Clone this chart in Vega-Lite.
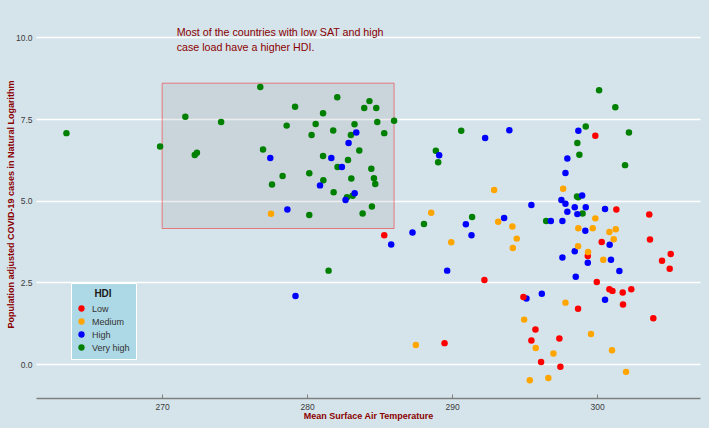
{
  "$schema": "https://vega.github.io/schema/vega-lite/v6.json",
  "width": 664,
  "height": 388,
  "autosize": {"type": "none"},
  "padding": {"left": 36, "top": 10, "right": 9, "bottom": 30},
  "background": "#d5e4eb",
  "config": {"view": {"stroke": null}, "font": "Liberation Sans"},
  "datasets": {
    "box": [{"x": 270, "xe": 286, "y": 4.15, "ye": 8.6}],
    "note": [{"x": 271.0, "y": 10.05, "label": "Most of the countries with low SAT and high\n case load have a higher HDI."}],
    "pts": [
      {"x": 263.40, "y": 7.07, "hdi": "Very high"},
      {"x": 269.86, "y": 6.66, "hdi": "Very high"},
      {"x": 271.60, "y": 7.57, "hdi": "Very high"},
      {"x": 272.25, "y": 6.40, "hdi": "Very high"},
      {"x": 272.40, "y": 6.47, "hdi": "Very high"},
      {"x": 274.07, "y": 7.41, "hdi": "Very high"},
      {"x": 276.77, "y": 8.48, "hdi": "Very high"},
      {"x": 276.96, "y": 6.57, "hdi": "Very high"},
      {"x": 278.31, "y": 5.76, "hdi": "Very high"},
      {"x": 277.58, "y": 5.50, "hdi": "Very high"},
      {"x": 279.17, "y": 7.88, "hdi": "Very high"},
      {"x": 278.59, "y": 7.30, "hdi": "Very high"},
      {"x": 280.31, "y": 7.01, "hdi": "Very high"},
      {"x": 280.59, "y": 7.35, "hdi": "Very high"},
      {"x": 281.10, "y": 7.68, "hdi": "Very high"},
      {"x": 280.15, "y": 5.84, "hdi": "Very high"},
      {"x": 281.10, "y": 6.37, "hdi": "Very high"},
      {"x": 282.10, "y": 6.03, "hdi": "Very high"},
      {"x": 281.80, "y": 7.15, "hdi": "Very high"},
      {"x": 282.08, "y": 8.17, "hdi": "Very high"},
      {"x": 281.12, "y": 5.63, "hdi": "Very high"},
      {"x": 281.83, "y": 5.26, "hdi": "Very high"},
      {"x": 282.75, "y": 5.11, "hdi": "Very high"},
      {"x": 283.14, "y": 5.15, "hdi": "Very high"},
      {"x": 282.82, "y": 6.25, "hdi": "Very high"},
      {"x": 283.02, "y": 7.01, "hdi": "Very high"},
      {"x": 283.27, "y": 7.34, "hdi": "Very high"},
      {"x": 283.05, "y": 5.68, "hdi": "Very high"},
      {"x": 283.60, "y": 6.54, "hdi": "Very high"},
      {"x": 280.15, "y": 4.56, "hdi": "Very high"},
      {"x": 281.48, "y": 2.86, "hdi": "Very high"},
      {"x": 284.30, "y": 8.05, "hdi": "Very high"},
      {"x": 283.94, "y": 7.84, "hdi": "Very high"},
      {"x": 284.77, "y": 7.84, "hdi": "Very high"},
      {"x": 284.84, "y": 7.41, "hdi": "Very high"},
      {"x": 286.00, "y": 7.45, "hdi": "Very high"},
      {"x": 285.32, "y": 7.07, "hdi": "Very high"},
      {"x": 284.43, "y": 5.98, "hdi": "Very high"},
      {"x": 284.61, "y": 5.69, "hdi": "Very high"},
      {"x": 284.70, "y": 5.51, "hdi": "Very high"},
      {"x": 284.47, "y": 4.82, "hdi": "Very high"},
      {"x": 283.83, "y": 4.61, "hdi": "Very high"},
      {"x": 300.14, "y": 8.38, "hdi": "Very high"},
      {"x": 301.26, "y": 7.86, "hdi": "Very high"},
      {"x": 302.20, "y": 7.09, "hdi": "Very high"},
      {"x": 299.22, "y": 7.27, "hdi": "Very high"},
      {"x": 298.64, "y": 6.77, "hdi": "Very high"},
      {"x": 298.78, "y": 6.41, "hdi": "Very high"},
      {"x": 301.93, "y": 6.09, "hdi": "Very high"},
      {"x": 290.63, "y": 7.14, "hdi": "Very high"},
      {"x": 288.88, "y": 6.53, "hdi": "Very high"},
      {"x": 289.04, "y": 6.18, "hdi": "Very high"},
      {"x": 298.62, "y": 5.13, "hdi": "Very high"},
      {"x": 298.70, "y": 5.11, "hdi": "Very high"},
      {"x": 299.00, "y": 4.61, "hdi": "Very high"},
      {"x": 291.38, "y": 4.50, "hdi": "Very high"},
      {"x": 288.06, "y": 4.29, "hdi": "Very high"},
      {"x": 296.49, "y": 4.38, "hdi": "Very high"},
      {"x": 277.46, "y": 6.31, "hdi": "High"},
      {"x": 281.67, "y": 6.31, "hdi": "High"},
      {"x": 282.40, "y": 6.03, "hdi": "High"},
      {"x": 280.89, "y": 5.47, "hdi": "High"},
      {"x": 282.65, "y": 5.02, "hdi": "High"},
      {"x": 283.28, "y": 5.23, "hdi": "High"},
      {"x": 282.86, "y": 6.77, "hdi": "High"},
      {"x": 283.39, "y": 7.09, "hdi": "High"},
      {"x": 278.64, "y": 4.73, "hdi": "High"},
      {"x": 279.20, "y": 2.08, "hdi": "High"},
      {"x": 298.71, "y": 7.14, "hdi": "High"},
      {"x": 297.95, "y": 6.29, "hdi": "High"},
      {"x": 297.82, "y": 5.85, "hdi": "High"},
      {"x": 292.28, "y": 6.92, "hdi": "High"},
      {"x": 293.95, "y": 7.16, "hdi": "High"},
      {"x": 289.11, "y": 6.39, "hdi": "High"},
      {"x": 295.47, "y": 4.87, "hdi": "High"},
      {"x": 297.54, "y": 5.02, "hdi": "High"},
      {"x": 297.82, "y": 4.91, "hdi": "High"},
      {"x": 298.97, "y": 5.16, "hdi": "High"},
      {"x": 298.46, "y": 4.80, "hdi": "High"},
      {"x": 299.22, "y": 4.80, "hdi": "High"},
      {"x": 297.95, "y": 4.66, "hdi": "High"},
      {"x": 298.64, "y": 4.59, "hdi": "High"},
      {"x": 300.55, "y": 4.75, "hdi": "High"},
      {"x": 293.59, "y": 4.47, "hdi": "High"},
      {"x": 287.27, "y": 4.03, "hdi": "High"},
      {"x": 285.80, "y": 3.66, "hdi": "High"},
      {"x": 290.95, "y": 4.28, "hdi": "High"},
      {"x": 291.34, "y": 3.94, "hdi": "High"},
      {"x": 289.66, "y": 2.86, "hdi": "High"},
      {"x": 296.81, "y": 4.38, "hdi": "High"},
      {"x": 297.61, "y": 4.38, "hdi": "High"},
      {"x": 299.19, "y": 4.08, "hdi": "High"},
      {"x": 300.87, "y": 3.65, "hdi": "High"},
      {"x": 298.46, "y": 3.45, "hdi": "High"},
      {"x": 299.36, "y": 3.10, "hdi": "High"},
      {"x": 297.61, "y": 3.26, "hdi": "High"},
      {"x": 300.96, "y": 3.19, "hdi": "High"},
      {"x": 301.54, "y": 2.85, "hdi": "High"},
      {"x": 298.53, "y": 2.67, "hdi": "High"},
      {"x": 300.55, "y": 1.97, "hdi": "High"},
      {"x": 296.19, "y": 2.15, "hdi": "High"},
      {"x": 295.13, "y": 2.01, "hdi": "High"},
      {"x": 285.32, "y": 3.94, "hdi": "Low"},
      {"x": 299.88, "y": 6.99, "hdi": "Low"},
      {"x": 301.33, "y": 4.73, "hdi": "Low"},
      {"x": 303.60, "y": 4.58, "hdi": "Low"},
      {"x": 300.32, "y": 3.74, "hdi": "Low"},
      {"x": 303.65, "y": 3.81, "hdi": "Low"},
      {"x": 305.08, "y": 3.37, "hdi": "Low"},
      {"x": 304.48, "y": 3.16, "hdi": "Low"},
      {"x": 305.01, "y": 2.92, "hdi": "Low"},
      {"x": 299.36, "y": 3.31, "hdi": "Low"},
      {"x": 299.98, "y": 2.51, "hdi": "Low"},
      {"x": 300.85, "y": 2.29, "hdi": "Low"},
      {"x": 301.06, "y": 2.24, "hdi": "Low"},
      {"x": 301.77, "y": 2.19, "hdi": "Low"},
      {"x": 302.36, "y": 2.29, "hdi": "Low"},
      {"x": 301.79, "y": 1.82, "hdi": "Low"},
      {"x": 303.88, "y": 1.40, "hdi": "Low"},
      {"x": 292.23, "y": 2.57, "hdi": "Low"},
      {"x": 294.92, "y": 2.05, "hdi": "Low"},
      {"x": 298.69, "y": 1.69, "hdi": "Low"},
      {"x": 295.75, "y": 1.06, "hdi": "Low"},
      {"x": 295.47, "y": 0.72, "hdi": "Low"},
      {"x": 297.40, "y": 0.78, "hdi": "Low"},
      {"x": 296.14, "y": 0.06, "hdi": "Low"},
      {"x": 297.47, "y": -0.08, "hdi": "Low"},
      {"x": 289.48, "y": 0.64, "hdi": "Low"},
      {"x": 277.51, "y": 4.60, "hdi": "Medium"},
      {"x": 297.66, "y": 5.37, "hdi": "Medium"},
      {"x": 292.90, "y": 5.33, "hdi": "Medium"},
      {"x": 288.56, "y": 4.63, "hdi": "Medium"},
      {"x": 299.88, "y": 4.46, "hdi": "Medium"},
      {"x": 289.94, "y": 3.73, "hdi": "Medium"},
      {"x": 293.18, "y": 4.36, "hdi": "Medium"},
      {"x": 294.16, "y": 4.21, "hdi": "Medium"},
      {"x": 294.46, "y": 3.84, "hdi": "Medium"},
      {"x": 294.19, "y": 3.55, "hdi": "Medium"},
      {"x": 298.71, "y": 4.16, "hdi": "Medium"},
      {"x": 299.70, "y": 4.16, "hdi": "Medium"},
      {"x": 300.85, "y": 4.04, "hdi": "Medium"},
      {"x": 301.29, "y": 4.13, "hdi": "Medium"},
      {"x": 301.15, "y": 3.82, "hdi": "Medium"},
      {"x": 298.69, "y": 3.61, "hdi": "Medium"},
      {"x": 299.38, "y": 3.43, "hdi": "Medium"},
      {"x": 300.43, "y": 3.19, "hdi": "Medium"},
      {"x": 297.82, "y": 1.88, "hdi": "Medium"},
      {"x": 294.97, "y": 1.36, "hdi": "Medium"},
      {"x": 299.58, "y": 0.92, "hdi": "Medium"},
      {"x": 295.77, "y": 0.49, "hdi": "Medium"},
      {"x": 296.99, "y": 0.32, "hdi": "Medium"},
      {"x": 301.03, "y": 0.42, "hdi": "Medium"},
      {"x": 302.00, "y": -0.24, "hdi": "Medium"},
      {"x": 295.36, "y": -0.50, "hdi": "Medium"},
      {"x": 296.64, "y": -0.43, "hdi": "Medium"},
      {"x": 287.50, "y": 0.58, "hdi": "Medium"}
    ]
  },
  "layer": [
    {
      "data": {"name": "box"},
      "mark": {"type": "rect", "fill": "#808080", "fillOpacity": 0.14, "stroke": "#ff0000", "strokeOpacity": 0.45, "strokeWidth": 1},
      "encoding": {
        "x": {"field": "x", "type": "quantitative", "scale": {"domain": [261.3, 307.1], "nice": false, "zero": false}},
        "x2": {"field": "xe"},
        "y": {"field": "y", "type": "quantitative", "scale": {"domain": [-1.04, 10.84], "nice": false, "zero": false}},
        "y2": {"field": "ye"}
      }
    },
    {
      "data": {"name": "pts"},
      "mark": {"type": "circle", "size": 42, "opacity": 1},
      "encoding": {
        "x": {
          "field": "x", "type": "quantitative",
          "scale": {"domain": [261.3, 307.1], "nice": false, "zero": false},
          "axis": {"title": "Mean Surface Air Temperature", "values": [270, 280, 290, 300], "format": "d", "grid": false,
            "domainColor": "#7f7f7f", "domainWidth": 1.5, "tickColor": "#7f7f7f", "tickSize": -4, "tickWidth": 1,
            "labelFontSize": 8.5, "labelColor": "#3c3c3c", "labelPadding": 8,
            "titleColor": "#8b0000", "titleFontSize": 9, "titleFontWeight": "bold", "titlePadding": 1}
        },
        "y": {
          "field": "y", "type": "quantitative",
          "scale": {"domain": [-1.04, 10.84], "nice": false, "zero": false},
          "axis": {"title": "Population adjusted COVID-19 cases in Natural Logarithm", "values": [0, 2.5, 5, 7.5, 10], "format": ".1f",
            "domain": false, "ticks": false, "grid": true, "gridColor": "#ffffff", "gridWidth": 1.3,
            "labelFontSize": 8.5, "labelColor": "#3c3c3c", "labelPadding": 4,
            "titleColor": "#8b0000", "titleFontSize": 9, "titleFontWeight": "bold", "titlePadding": 0}
        },
        "color": {
          "field": "hdi", "type": "nominal",
          "scale": {"domain": ["Low", "Medium", "High", "Very high"], "range": ["#ff0000", "#ffa500", "#0000ff", "#008000"]},
          "legend": {"title": "HDI", "orient": "none", "legendX": 35, "legendY": 273,
            "titleFontSize": 10, "titleFontWeight": "bold", "titleColor": "#1a1a1a", "titleAnchor": "middle", "titlePadding": 5,
            "labelFontSize": 9, "labelColor": "#333333", "labelOffset": 6,
            "fillColor": "#add8e6", "strokeColor": "#ffffff", "padding": 6,
            "symbolType": "circle", "symbolSize": 40, "symbolStrokeWidth": 0, "symbolOpacity": 1, "rowPadding": 3}
        }
      }
    },
    {
      "data": {"name": "note"},
      "mark": {"type": "text", "align": "left", "baseline": "alphabetic", "fontSize": 10.7, "color": "#8b0000", "lineBreak": "\n", "lineHeight": 15},
      "encoding": {
        "x": {"field": "x", "type": "quantitative", "scale": {"domain": [261.3, 307.1], "nice": false, "zero": false}},
        "y": {"field": "y", "type": "quantitative", "scale": {"domain": [-1.04, 10.84], "nice": false, "zero": false}},
        "text": {"field": "label"}
      }
    }
  ]
}
